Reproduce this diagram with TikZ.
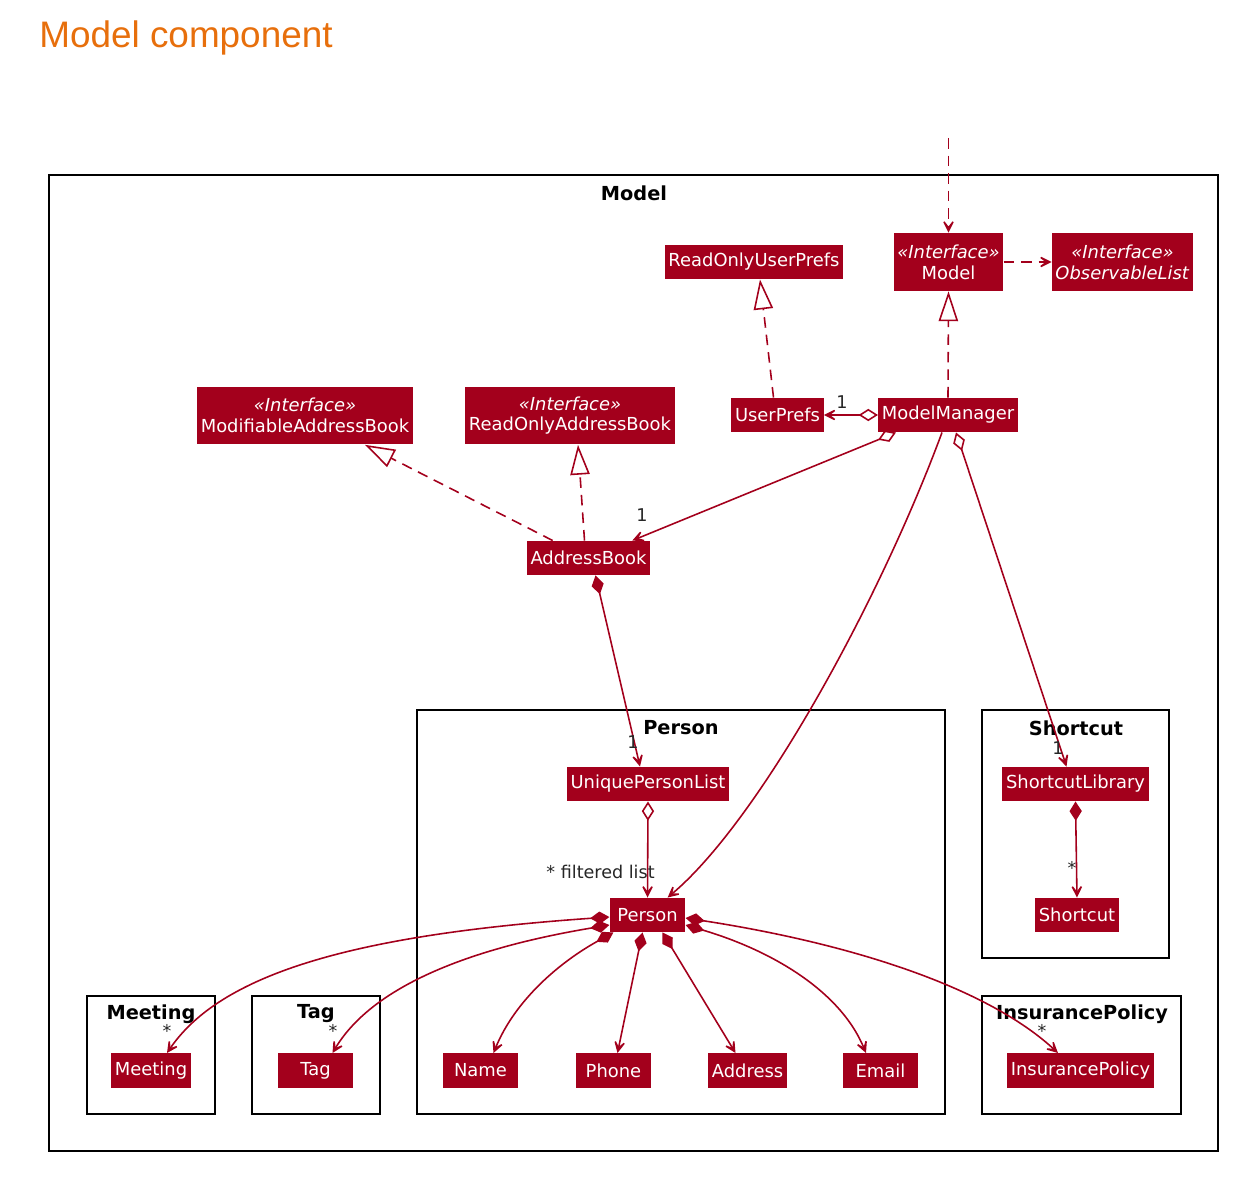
\documentclass[tikz,border=0pt]{standalone}
\usepackage{fontspec}
\setmainfont{DejaVu Sans}
\newfontfamily\titlefont{Liberation Sans}
\usepackage{tikz}
\usetikzlibrary{arrows.meta,calc}
\definecolor{umlred}{RGB}{163,0,28}
\definecolor{titleorange}{RGB}{231,111,12}

\begin{document}
\begin{tikzpicture}[x=0.02cm,y=-0.02cm,
  cls/.style={fill=umlred,text=white,font=\fontsize{10.2}{11.8}\selectfont,inner xsep=2pt,inner ysep=0pt,
    minimum height=19.5pt,minimum width=43pt,align=center},
  iface/.style={cls,minimum height=33pt},
  pkg/.style={draw=black,line width=1.2pt},
  pkgname/.style={font=\bfseries\fontsize{11}{13}\selectfont,inner sep=0pt},
  mult/.style={font=\fontsize{10}{11}\selectfont,text=black!85,inner sep=0pt},
  uml/.style={draw=umlred,line width=0.9pt},
  dep/.style={uml,dash pattern=on 6pt off 4pt,-{Stealth[length=10pt,width=10pt,inset=6.5pt]}},
  real/.style={uml,dash pattern=on 6pt off 4pt,-{Triangle[open,length=17pt,width=11pt,fill=white]}},
  assoc/.style={uml,-{Stealth[length=10pt,width=10pt,inset=6.5pt]}},
  agg/.style={uml,{Diamond[open,length=11pt,width=7pt,fill=white]}-{Stealth[length=10pt,width=10pt,inset=6.5pt]}},
  comp/.style={uml,{Diamond[length=11pt,width=7pt,fill=umlred]}-{Stealth[length=10pt,width=10pt,inset=6.5pt]}}]
  \useasboundingbox (0,0) rectangle (1252,1179);
  \node[anchor=west,inner sep=0pt,text=titleorange,font=\titlefont\fontsize{21}{25}\selectfont] (title) at (39,38) {Model component};

  \draw[pkg] (49,175) rectangle (1218,1151);
  \node[pkgname] (lmodel) at (634,193) {Model};
  \draw[pkg] (417,710) rectangle (945,1114);
  \node[pkgname] (lperson) at (681,728) {Person};
  \draw[pkg] (982,710) rectangle (1169,958);
  \node[pkgname] (lshortcut) at (1076,728) {Shortcut};
  \draw[pkg] (87,996) rectangle (215,1114);
  \node[pkgname] (lmeeting) at (151,1014) {Meeting};
  \draw[pkg] (252,996) rectangle (380,1114);
  \node[pkgname] (ltag) at (316,1014) {Tag};
  \draw[pkg] (982,996) rectangle (1181,1114);
  \node[pkgname] (lins) at (1082,1014) {InsurancePolicy};

  \node[iface] (model) at (948.5,262) {\textit{«Interface»}\\Model};
  \node[iface] (obs) at (1122.5,262) {\textit{«Interface»}\\\textit{ObservableList}};
  \node[cls] (rup) at (754,262) {ReadOnlyUserPrefs};
  \node[cls] (up) at (777.5,415) {UserPrefs};
  \node[cls] (mm) at (948,415) {ModelManager};
  \node[iface] (mab) at (305,415.5) {\textit{«Interface»}\\ModifiableAddressBook};
  \node[iface] (rab) at (570,415.5) {\textit{«Interface»}\\ReadOnlyAddressBook};
  \node[cls] (ab) at (588.5,558) {AddressBook};
  \node[cls] (upl) at (648,784) {UniquePersonList};
  \node[cls] (per) at (647.5,915) {Person};
  \node[cls] (name) at (480.5,1070.5) {Name};
  \node[cls] (phone) at (613.5,1070.5) {Phone};
  \node[cls] (addr) at (747.5,1070.5) {Address};
  \node[cls] (email) at (880.5,1070.5) {Email};
  \node[cls] (scl) at (1075.5,784) {ShortcutLibrary};
  \node[cls] (sc) at (1077,915) {Shortcut};
  \node[cls] (meet) at (151,1070.5) {Meeting};
  \node[cls] (tag) at (315.5,1070.5) {Tag};
  \node[cls] (ins) at (1080.5,1070.5) {InsurancePolicy};

  \coordinate (ext) at (948.5,138);
  \draw[dep] (ext) -- (model.north);
  \draw[dep] (model.east) -- (obs.west);
  \draw[real] (mm.north) -- (model.south);
  \draw[real] ($(up.north)+(-4,0)$) -- ($(rup.south)+(6,0)$);
  \draw[agg] (mm.west) -- (up.east);
  \draw[agg] ($(mm.south west)+(18,0)$) -- ($(ab.north east)+(-18,0)$);
  \draw[assoc] ($(mm.south)+(-6,0)$) .. controls (880,600) and (760,820) .. ($(per.north east)+(-18,0)$);
  \draw[agg] ($(mm.south)+(8,0)$) -- ($(scl.north)+(-9,0)$);
  \draw[real] ($(ab.north west)+(26,0)$) -- ($(mab.south)+(60,0)$);
  \draw[real] ($(ab.north)+(-4,0)$) -- ($(rab.south)+(8,0)$);
  \draw[comp] ($(ab.south)+(7,0)$) -- ($(upl.north)+(-8,0)$);
  \draw[agg] (upl.south) -- (per.north);
  \draw[comp] (scl.south) -- (sc.north);

  \draw[comp] ($(per.west)+(0,2)$) .. controls (350,935) and (220,975) .. ($(meet.north)+(16,0)$);
  \draw[comp] ($(per.west)+(0,10)$) .. controls (460,950) and (370,990) .. ($(tag.north)+(17,0)$);
  \draw[comp] ($(per.south west)+(4,0)$) .. controls (560,962) and (515,1000) .. ($(name.north)+(13,0)$);
  \draw[comp] ($(per.south)+(-5,0)$) -- ($(phone.north)+(4,0)$);
  \draw[comp] ($(per.south)+(15,0)$) -- ($(addr.north)+(-12,0)$);
  \draw[comp] ($(per.east)+(0,10)$) .. controls (770,950) and (840,990) .. ($(email.north)+(-14.5,0)$);
  \draw[comp] ($(per.east)+(0,3)$) .. controls (860,945) and (990,990) .. ($(ins.north)+(-22.5,0)$);

  \node[mult] (m1) at (842,402) {1};
  \node[mult] (m2) at (642,515) {1};
  \node[mult] (m3) at (633,742) {1};
  \node[mult] (m4) at (1058,748) {1};
  \node[mult,anchor=east] (m5) at (655,872) {* filtered list};
  \node[mult] (m6) at (1072,868) {*};
  \node[mult] (m7) at (167,1031) {*};
  \node[mult] (m8) at (333,1031) {*};
  \node[mult] (m9) at (1042,1031) {*};
\end{tikzpicture}
\end{document}
